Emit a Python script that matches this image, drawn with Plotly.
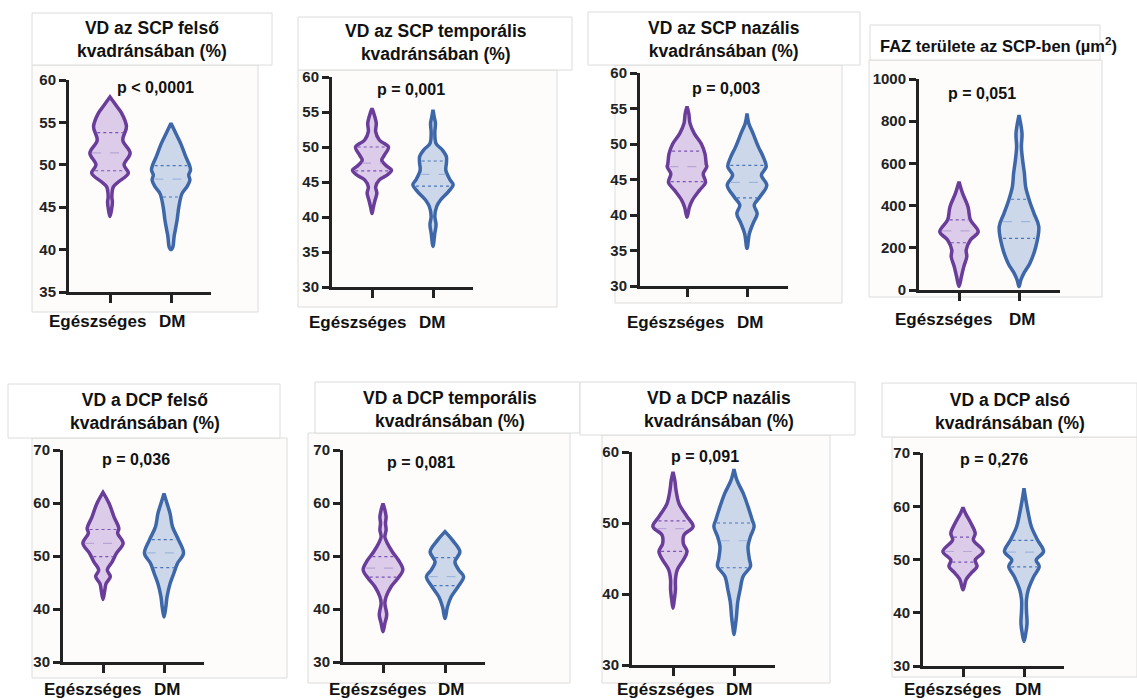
import numpy as np
import plotly.graph_objects as go

W_PX, H_PX = 1137, 700

# ---------------- data ----------------
TITLES = [
    "VD az SCP felső<br>kvadránsában (%)",
    "VD az SCP temporális<br>kvadránsában (%)",
    "VD az SCP nazális<br>kvadránsában (%)",
    "FAZ területe az SCP-ben (µm<sup>2</sup>)",
    "VD a DCP felső<br>kvadránsában (%)",
    "VD a DCP temporális<br>kvadránsában (%)",
    "VD a DCP nazális<br>kvadránsában (%)",
    "VD a DCP alsó<br>kvadránsában (%)",
]
PVALS = ["p < 0,0001", "p = 0,001", "p = 0,003", "p = 0,051",
         "p = 0,036", "p = 0,081", "p = 0,091", "p = 0,276"]
GROUPS = ["Egészséges", "DM"]
YRANGES = [[35, 60], [30, 60], [30, 60], [0, 1000], [30, 70], [30, 70], [30, 60], [30, 70]]
YDTICK = [5, 5, 5, 200, 10, 10, 10, 10]

# violin outlines: y levels (ascending) and half-widths (category spacing = 1)
V1_EG_Y = [43.9, 44.7, 45.6, 46.2, 47.4, 48.0, 49.0, 50.0, 51.4, 52.9, 54.5, 56.1, 56.9, 58.0]
V1_EG_W = [0, 0.025, 0.04, 0.03, 0.055, 0.14, 0.30, 0.23, 0.33, 0.21, 0.27, 0.19, 0.11, 0]
V1_DM_Y = [40.0, 40.3, 41.5, 42.3, 43.5, 45.1, 46.6, 47.4, 48.2, 48.8, 49.4, 50.0, 51.0, 52.5, 53.7, 54.9]
V1_DM_W = [0, 0.03, 0.05, 0.07, 0.10, 0.13, 0.18, 0.26, 0.31, 0.29, 0.32, 0.30, 0.24, 0.16, 0.08, 0]

V2_EG_Y = [40.5, 41.3, 42.4, 43.4, 44.3, 45.3, 46.0, 46.7, 47.2, 48.1, 48.8, 50.0, 51.0, 52.2, 53.4, 54.8, 55.5]
V2_EG_W = [0, 0.02, 0.05, 0.08, 0.06, 0.12, 0.25, 0.32, 0.25, 0.16, 0.20, 0.27, 0.12, 0.06, 0.07, 0.03, 0]
V2_DM_Y = [35.8, 37.7, 38.9, 40.1, 41.5, 42.4, 43.6, 44.6, 45.3, 46.7, 47.7, 48.6, 49.6, 50.5, 52.0, 53.4, 54.3, 55.3]
V2_DM_W = [0, 0.03, 0.05, 0.03, 0.06, 0.12, 0.25, 0.33, 0.28, 0.21, 0.22, 0.22, 0.15, 0.05, 0.03, 0.04, 0.02, 0]

V3_EG_Y = [39.7, 41.1, 42.1, 43.5, 44.6, 45.8, 46.8, 47.2, 48.6, 50.0, 51.5, 52.9, 54.3, 55.3]
V3_EG_W = [0, 0.04, 0.09, 0.21, 0.31, 0.27, 0.33, 0.32, 0.30, 0.24, 0.12, 0.05, 0.03, 0]
V3_DM_Y = [35.3, 37.4, 38.8, 40.2, 41.4, 42.5, 44.2, 45.6, 46.8, 48.2, 49.6, 51.5, 52.9, 54.3]
V3_DM_W = [0, 0.04, 0.10, 0.17, 0.12, 0.21, 0.33, 0.24, 0.32, 0.27, 0.19, 0.10, 0.03, 0]

V4_EG_Y = [16, 63, 111, 158, 190, 237, 276, 332, 395, 458, 513]
V4_EG_W = [0, 0.04, 0.08, 0.13, 0.12, 0.19, 0.32, 0.19, 0.15, 0.06, 0]
V4_DM_Y = [16, 47, 79, 126, 205, 300, 363, 427, 490, 553, 616, 679, 742, 829]
V4_DM_W = [0, 0.03, 0.08, 0.18, 0.28, 0.33, 0.25, 0.17, 0.11, 0.09, 0.06, 0.04, 0.05, 0]

V5_EG_Y = [41.8, 43.6, 44.8, 46.1, 47.4, 48.9, 50.5, 52.4, 54.3, 55.2, 57.4, 59.9, 62.0]
V5_EG_W = [0, 0.03, 0.05, 0.12, 0.07, 0.15, 0.22, 0.33, 0.24, 0.26, 0.18, 0.10, 0]
V5_DM_Y = [38.5, 40.4, 42.3, 44.8, 46.7, 48.6, 50.5, 53.0, 55.5, 58.0, 59.9, 61.8]
V5_DM_W = [0, 0.03, 0.05, 0.10, 0.16, 0.22, 0.32, 0.24, 0.14, 0.10, 0.05, 0]

V6_EG_Y = [35.7, 37.3, 38.9, 41.1, 42.3, 44.2, 45.8, 47.4, 49.2, 50.8, 52.4, 53.6, 54.9, 56.2, 57.4, 58.7, 59.9]
V6_EG_W = [0, 0.03, 0.06, 0.03, 0.05, 0.13, 0.24, 0.32, 0.25, 0.15, 0.07, 0.03, 0.05, 0.04, 0.05, 0.03, 0]
V6_DM_Y = [38.2, 40.4, 42.3, 44.2, 46.1, 47.4, 48.9, 50.8, 53.0, 54.6]
V6_DM_W = [0, 0.04, 0.10, 0.21, 0.30, 0.22, 0.16, 0.24, 0.12, 0]

V7_EG_Y = [38.0, 39.1, 40.6, 42.0, 43.4, 44.8, 46.0, 47.1, 48.3, 49.5, 50.9, 52.7, 54.6, 56.0, 57.2]
V7_EG_W = [0, 0.02, 0.04, 0.04, 0.07, 0.17, 0.23, 0.17, 0.18, 0.33, 0.23, 0.10, 0.05, 0.03, 0]
V7_DM_Y = [34.3, 35.4, 36.8, 38.8, 40.6, 42.5, 43.9, 45.0, 46.7, 48.1, 49.5, 50.4, 52.3, 54.2, 56.0, 57.6]
V7_DM_W = [0, 0.02, 0.04, 0.06, 0.10, 0.15, 0.27, 0.25, 0.23, 0.27, 0.33, 0.30, 0.23, 0.15, 0.05, 0]

V8_EG_Y = [44.3, 46.2, 47.4, 48.7, 49.9, 51.5, 53.7, 54.9, 56.8, 58.7, 59.8]
V8_EG_W = [0, 0.05, 0.13, 0.23, 0.20, 0.33, 0.17, 0.20, 0.13, 0.04, 0]
V8_DM_Y = [34.6, 36.2, 38.0, 40.5, 42.4, 44.3, 46.8, 48.7, 49.9, 51.5, 53.7, 56.2, 58.7, 61.2, 63.4]
V8_DM_W = [0, 0.03, 0.05, 0.04, 0.04, 0.07, 0.16, 0.25, 0.20, 0.32, 0.22, 0.12, 0.07, 0.03, 0]

# quartiles (Q1, median, Q3)
Q_EG = [[49.3, 51.4, 53.8], [46.6, 47.7, 50.0], [44.7, 46.8, 49.0], [224, 280, 332],
        [49.9, 52.4, 55.0], [46.0, 47.7, 49.9], [46.0, 49.2, 50.3], [49.5, 51.5, 54.2]]
Q_DM = [[46.2, 48.3, 49.9], [44.4, 46.1, 48.0], [42.4, 44.6, 47.0], [245, 324, 430],
        [47.8, 50.6, 53.1], [44.4, 46.1, 49.7], [43.7, 47.5, 50.0], [48.6, 51.4, 53.6]]

VIOLINS = [
    ((V1_EG_Y, V1_EG_W), (V1_DM_Y, V1_DM_W)),
    ((V2_EG_Y, V2_EG_W), (V2_DM_Y, V2_DM_W)),
    ((V3_EG_Y, V3_EG_W), (V3_DM_Y, V3_DM_W)),
    ((V4_EG_Y, V4_EG_W), (V4_DM_Y, V4_DM_W)),
    ((V5_EG_Y, V5_EG_W), (V5_DM_Y, V5_DM_W)),
    ((V6_EG_Y, V6_EG_W), (V6_DM_Y, V6_DM_W)),
    ((V7_EG_Y, V7_EG_W), (V7_DM_Y, V7_DM_W)),
    ((V8_EG_Y, V8_EG_W), (V8_DM_Y, V8_DM_W)),
]

# ---------------- layout geometry (pixels) ----------------
# axis: left, right, top, bottom, category-0 px, category-1 px
AX = [
    (69, 211, 80, 292, 110, 171),
    (332, 473, 77, 287, 372, 433),
    (640, 788, 73, 286, 687, 747),
    (919, 1060, 79, 290, 959, 1019),
    (63, 204, 450, 662, 103, 164),
    (343, 485, 450, 662, 383, 445),
    (632, 775, 452, 665, 673, 734),
    (923, 1064, 453, 666, 963, 1024),
]
TITLE_POS = [(152, 39), (436, 43), (724, 39), (998, 45), (145, 412), (450, 409), (719, 409), (1010, 412)]
TITLE_SIZE = [17.5, 17.5, 17.5, 16.5, 17.5, 17.5, 17.5, 17.5]
P_POS = [(155, 87), (411, 90), (726, 89), (982, 93), (136, 459), (421, 462), (705, 456), (994, 459)]
LBL_POS = [((97, 172), 321), ((357, 432), 322), ((675, 750), 322), ((943, 1022), 320),
           ((92, 167), 689), ((377, 451), 689), ((665, 739), 689), ((952, 1028), 689)]
TITLE_BOX = [(32, 13, 272, 65), (298, 17, 572, 70), (588, 12, 860, 65), (870, 25, 1100, 60),
             (8, 384, 280, 438), (315, 382, 580, 433), (580, 382, 855, 435), (882, 383, 1137, 437)]
PLOT_BOX = [(32, 65, 258, 312), (298, 70, 557, 307), (615, 65, 842, 303), (869, 60, 1102, 297),
            (32, 438, 287, 678), (308, 433, 570, 683), (602, 435, 830, 683), (892, 437, 1137, 677)]

LINE_C = ["#6a3d9a", "#3d67a8"]
FILL_C = ["#dccbe9", "#ccd8ea"]
QDOT_C = ["#7a52b8", "#4a74bd"]
QMED_C = ["#b8a6d6", "#9fb6dc"]
FONT = "Liberation Sans, Arial, sans-serif"


def px_x(x):
    return x / W_PX


def px_y(y):
    return 1 - y / H_PX


fig = go.Figure()
shapes = []
annotations = []

for i in range(8):
    left, right, top, bot, c0, c1 = AX[i]
    sp = c1 - c0
    xr = [(left - c0) / sp, (right - c0) / sp]
    xa = "x" if i == 0 else f"x{i + 1}"
    ya = "y" if i == 0 else f"y{i + 1}"
    xkey = "xaxis" if i == 0 else f"xaxis{i + 1}"
    ykey = "yaxis" if i == 0 else f"yaxis{i + 1}"

    # background boxes
    bx0, by0, bx1, by1 = PLOT_BOX[i]
    shapes.append(dict(type="rect", xref="paper", yref="paper", layer="below",
                       x0=px_x(bx0), x1=px_x(bx1), y0=px_y(by1), y1=px_y(by0),
                       fillcolor="#fdfcfa", line=dict(color="#dcdcdc", width=1)))
    tx0, ty0, tx1, ty1 = TITLE_BOX[i]
    shapes.append(dict(type="rect", xref="paper", yref="paper", layer="below",
                       x0=px_x(tx0), x1=px_x(tx1), y0=px_y(ty1), y1=px_y(ty0),
                       fillcolor="#ffffff", line=dict(color="#dcdcdc", width=1)))

    for g in range(2):
        Y = np.array(VIOLINS[i][g][0], dtype=float)
        Wd = np.array(VIOLINS[i][g][1], dtype=float)
        xs = np.concatenate([g + Wd, (g - Wd)[::-1]])
        ys = np.concatenate([Y, Y[::-1]])
        fig.add_trace(go.Scatter(x=xs, y=ys, mode="lines", fill="toself",
                                 fillcolor=FILL_C[g],
                                 line=dict(color=LINE_C[g], width=3.5, shape="spline", smoothing=1.0),
                                 xaxis=xa, yaxis=ya, showlegend=False, hoverinfo="skip"))
        q = (Q_EG if g == 0 else Q_DM)[i]
        for k, qv in enumerate(q):
            hw = float(np.interp(qv, Y, Wd)) - 0.035
            fig.add_trace(go.Scatter(x=[g - hw, g + hw], y=[qv, qv], mode="lines",
                                     line=dict(color=QMED_C[g] if k == 1 else QDOT_C[g],
                                               width=1.2, dash="dash" if k == 1 else "dot"),
                                     xaxis=xa, yaxis=ya, showlegend=False, hoverinfo="skip"))

    fig.layout[xkey] = dict(domain=[px_x(left), px_x(right)], range=xr, anchor=ya,
                            automargin=False,
                            showline=True, linecolor="#222", linewidth=3,
                            tickmode="array", tickvals=[0, 1], showticklabels=False,
                            ticks="outside", ticklen=8, tickwidth=3, tickcolor="#222",
                            showgrid=False, zeroline=False, fixedrange=True)
    y0r, y1r = YRANGES[i]
    yt = list(range(y0r, y1r + 1, YDTICK[i]))
    fig.layout[ykey] = dict(domain=[px_y(bot), px_y(top)], range=[y0r, y1r], anchor=xa,
                            automargin=False,
                            showline=True, linecolor="#222", linewidth=3,
                            tickmode="array", tickvals=yt, ticktext=[f"<b>{v}</b>" for v in yt],
                            ticks="outside", ticklen=7, tickwidth=3, tickcolor="#222",
                            tickfont=dict(family=FONT, size=15, color="#222"),
                            showgrid=False, zeroline=False, fixedrange=True)

    # title
    tx, ty = TITLE_POS[i]
    annotations.append(dict(text=f"<b>{TITLES[i]}</b>", xref="paper", yref="paper",
                            x=px_x(tx), y=px_y(ty), xanchor="center", yanchor="middle",
                            showarrow=False, align="center",
                            font=dict(family=FONT, size=TITLE_SIZE[i], color="#111")))
    px_, py_ = P_POS[i]
    annotations.append(dict(text=f"<b>{PVALS[i]}</b>", xref="paper", yref="paper",
                            x=px_x(px_), y=px_y(py_), xanchor="center", yanchor="middle",
                            showarrow=False,
                            font=dict(family=FONT, size=16, color="#111")))
    (lx0, lx1), ly = LBL_POS[i]
    for lx, lbl in zip((lx0, lx1), GROUPS):
        annotations.append(dict(text=f"<b>{lbl}</b>", xref="paper", yref="paper",
                                x=px_x(lx), y=px_y(ly), xanchor="center", yanchor="middle",
                                showarrow=False,
                                font=dict(family=FONT, size=17, color="#111")))

fig.update_layout(width=W_PX, height=H_PX, autosize=False,
                  margin=dict(l=0, r=0, t=0, b=0, pad=0),
                  paper_bgcolor="#ffffff", plot_bgcolor="rgba(0,0,0,0)",
                  shapes=shapes, annotations=annotations, showlegend=False)

fig.write_html("out.html", config={"displayModeBar": False},
               post_script="document.body.style.margin='0';document.body.style.overflow='hidden';")
